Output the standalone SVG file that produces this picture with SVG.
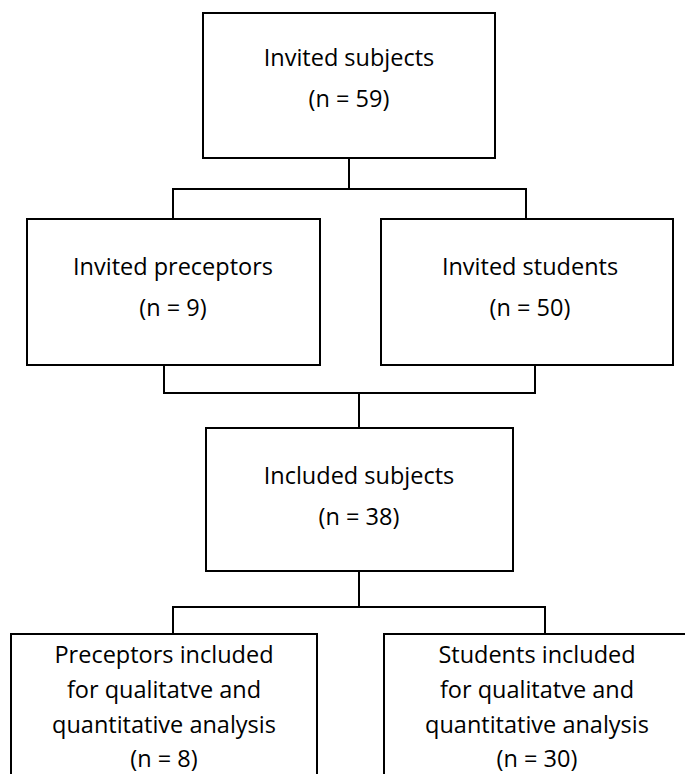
<svg xmlns="http://www.w3.org/2000/svg" width="685" height="774" viewBox="0 0 685 774">
<style>
.box{fill:#fff;stroke:#000;stroke-width:2}
.ln{fill:none;stroke:#000;stroke-width:2}
text{font-family:"Open Sans","Noto Sans",sans-serif;font-size:23.5px;fill:#000;text-anchor:middle}
</style>
<rect width="685" height="774" fill="#fff"/>
<g id="connectors">
<polyline class="ln" points="349,158 349,189"/>
<polyline class="ln" points="173,219 173,189 526,189 526,219"/>
<polyline class="ln" points="164,365 164,393 535,393 535,365"/>
<polyline class="ln" points="359,393 359,428"/>
<polyline class="ln" points="359,571 359,607"/>
<polyline class="ln" points="173,634 173,607 545,607 545,634"/>
</g>
<g id="invited-subjects">
<rect class="box" x="203" y="13" width="292" height="145"/>
<text x="349" y="66">Invited subjects</text>
<text x="349" y="107">(n = 59)</text>
</g>
<g id="invited-preceptors">
<rect class="box" x="27" y="219" width="293" height="146"/>
<text x="173" y="275">Invited preceptors</text>
<text x="173" y="316">(n = 9)</text>
</g>
<g id="invited-students">
<rect class="box" x="381" y="219" width="292" height="146"/>
<text x="530" y="275">Invited students</text>
<text x="530" y="316">(n = 50)</text>
</g>
<g id="included-subjects">
<rect class="box" x="206" y="428" width="307" height="143"/>
<text x="359" y="484">Included subjects</text>
<text x="359" y="525">(n = 38)</text>
</g>
<g id="preceptors-included">
<rect class="box" x="11" y="634" width="306" height="160"/>
<text x="164" y="663">Preceptors included</text>
<text x="164" y="698">for qualitatve and</text>
<text x="164" y="733">quantitative analysis</text>
<text x="164" y="767">(n = 8)</text>
</g>
<g id="students-included">
<rect class="box" x="384" y="634" width="320" height="160"/>
<text x="537" y="663">Students included</text>
<text x="537" y="698">for qualitatve and</text>
<text x="537" y="733">quantitative analysis</text>
<text x="537" y="767">(n = 30)</text>
</g>
</svg>
